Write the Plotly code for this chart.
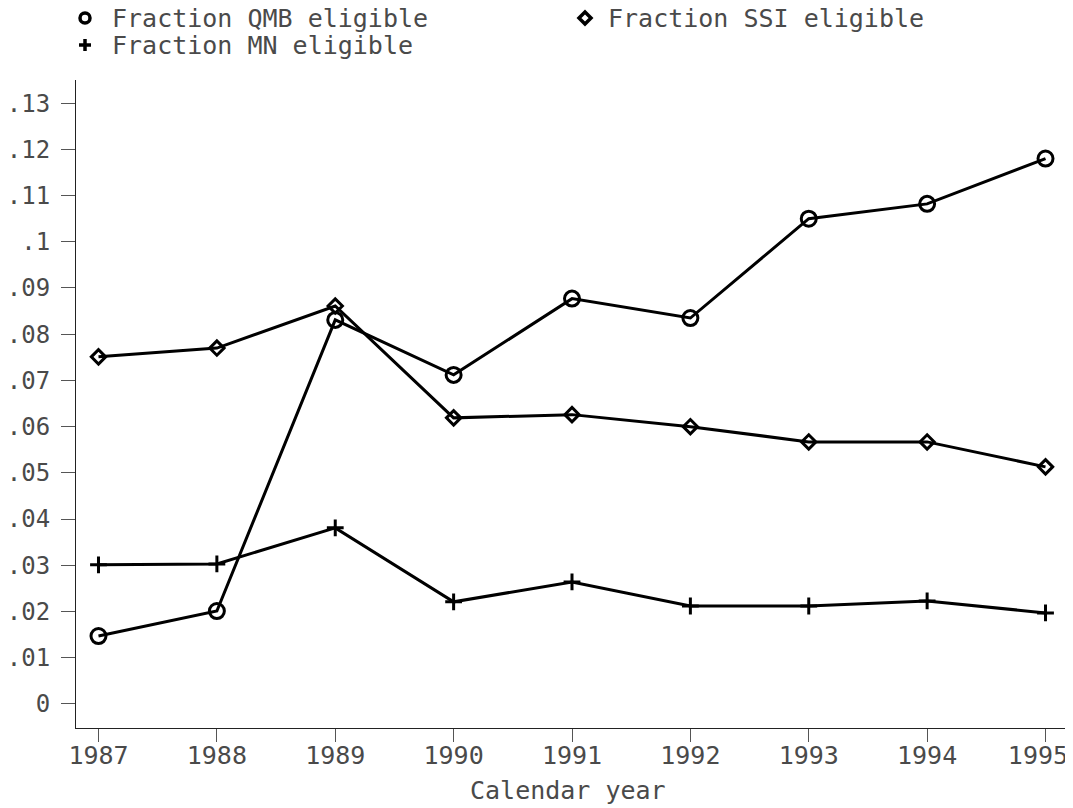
import plotly.graph_objects as go

years = [1987, 1988, 1989, 1990, 1991, 1992, 1993, 1994, 1995]
year_labels = ["1987", "1988", "1989", "1990", "1991", "1992", "1993", "1994",
               "1995<span style='color:rgba(0,0,0,0)'>0</span>"]
qmb_frac = [0.0147, 0.0201, 0.0831, 0.0712, 0.0877, 0.0835, 0.1050, 0.1082, 0.1180]
ssi_frac = [0.0751, 0.0770, 0.0861, 0.0619, 0.0626, 0.0600, 0.0567, 0.0567, 0.0513]
mn_frac = [0.0301, 0.0303, 0.0381, 0.0221, 0.0264, 0.0212, 0.0212, 0.0223, 0.0197]

y_ticks = [0, 0.01, 0.02, 0.03, 0.04, 0.05, 0.06, 0.07, 0.08, 0.09, 0.1, 0.11, 0.12, 0.13]
y_labels = ["0", ".01", ".02", ".03", ".04", ".05", ".06", ".07", ".08", ".09", ".1", ".11", ".12", ".13"]

series_names = ["Fraction QMB eligible", "Fraction SSI eligible", "Fraction MN eligible"]

font_name = "DejaVu Sans Mono"
text_col = "#4a4a4a"

# the page body has an 8px margin, so the figure is shrunk by that much
OFF = 8
W, H = 1073 - OFF, 808 - OFF
L, R, T, B = 76 - OFF, 5, 80 - OFF, 80
pw, ph = W - L - R, H - T - B


def px_x(px):
    # page pixel -> paper fraction
    return (px - OFF - L) / pw


def px_y(py):
    return (H - B - (py - OFF)) / ph


fig = go.Figure()

fig.add_trace(go.Scatter(
    x=years, y=qmb_frac, name=series_names[0], mode="lines+markers",
    line=dict(color="black", width=3),
    marker=dict(symbol="circle-open", size=15, color="black", line=dict(width=3))
))
fig.add_trace(go.Scatter(
    x=years, y=ssi_frac, name=series_names[1], mode="lines+markers",
    line=dict(color="black", width=3),
    marker=dict(symbol="diamond-open", size=11, color="black", line=dict(width=3))
))
fig.add_trace(go.Scatter(
    x=years, y=mn_frac, name=series_names[2], mode="lines+markers",
    line=dict(color="black", width=3),
    marker=dict(symbol="cross-thin-open", size=12, color="black", line=dict(width=3, color="black"))
))

# hand-made legend: key symbol (pixel-sized shape) + text, two columns
legend_keys = [
    # (name, key type, key centre x, text left x, key y, text y) in page px
    (series_names[0], "circle", 85, 110, 18, 19),
    (series_names[1], "diamond", 585, 606, 18, 19),
    (series_names[2], "plus", 85, 110, 45, 46),
]
shapes = []
annotations = []
for name, kind, kx, tx, ky, ty in legend_keys:
    common = dict(xref="paper", yref="paper", xsizemode="pixel", ysizemode="pixel",
                  xanchor=px_x(kx), yanchor=px_y(ky), line=dict(color="black", width=3.5))
    if kind == "circle":
        shapes.append(dict(type="circle", x0=-5, x1=5, y0=-5, y1=5, **common))
    elif kind == "diamond":
        shapes.append(dict(type="path", path="M -6 0 L 0 6 L 6 0 L 0 -6 Z", **common))
    else:
        shapes.append(dict(type="line", x0=-6, x1=6, y0=0, y1=0, **common))
        shapes.append(dict(type="line", x0=0, x1=0, y0=-6, y1=6, **common))
    annotations.append(dict(
        text=name, xref="paper", yref="paper", x=px_x(tx), y=px_y(ty),
        xanchor="left", yanchor="middle", showarrow=False,
        font=dict(family=font_name, size=25, color=text_col)
    ))

annotations.append(dict(
    text="Calendar year", xref="paper", yref="paper", x=px_x(568), y=px_y(790),
    xanchor="center", yanchor="middle", showarrow=False,
    font=dict(family=font_name, size=25, color=text_col)
))

fig.update_layout(
    width=W, height=H,
    paper_bgcolor="white", plot_bgcolor="white",
    margin=dict(l=L, r=R, t=T, b=B, autoexpand=False),
    font=dict(family=font_name, size=25, color=text_col),
    showlegend=False,
    shapes=shapes,
    annotations=annotations,
    xaxis=dict(
        range=[1986.81, 1995.19], tickvals=years, ticktext=year_labels,
        showgrid=False, zeroline=False, showline=True, linecolor="#222222", linewidth=1,
        ticks="outside", ticklen=13, tickcolor="#555555", tickwidth=1,
        ticklabelstandoff=-8, automargin=False, ticklabeloverflow="allow",
    ),
    yaxis=dict(
        range=[-0.0052, 0.135], tickvals=y_ticks, ticktext=y_labels,
        showgrid=False, zeroline=False, showline=True, linecolor="#222222", linewidth=1,
        ticks="outside", ticklen=14, tickcolor="#555555", tickwidth=1,
        ticklabelstandoff=6, automargin=False,
        tickfont=dict(family=font_name, size=24, color=text_col),
    ),
)

fig.write_html("out.html")
